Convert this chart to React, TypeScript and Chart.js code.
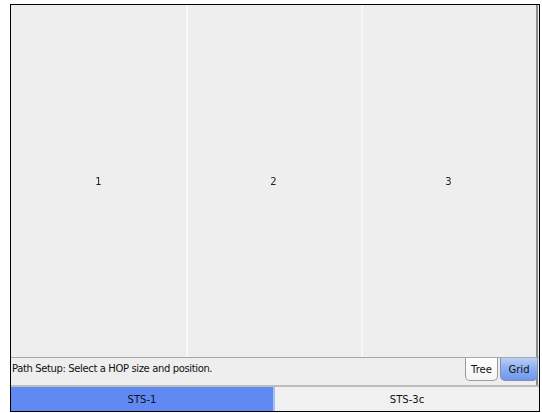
import React, { useEffect, useRef } from "react";
import { Chart, registerables } from "chart.js";

Chart.register(...registerables);

const categories = ["1", "2", "3"];
const panelValues = [1, 1, 1];
const statusText = "Path Setup: Select a HOP size and position.";
const viewButtons = ["Tree", "Grid"];
const tabs = ["STS-1", "STS-3c"];

const FONT = "'DejaVu Sans', sans-serif";

const panelPlugin = {
  id: "panelPlugin",
  afterDatasetsDraw(chart: any) {
    const ctx = chart.ctx;
    const xs = chart.scales.x;
    const area = chart.chartArea;
    const n = categories.length;
    const step = (area.right - area.left) / n;
    ctx.save();
    ctx.strokeStyle = "#f8f8f8";
    ctx.lineWidth = 2;
    for (let i = 0; i < n - 1; i++) {
      const x = Math.round(xs.getPixelForValue(i) + step / 2) + 1;
      ctx.beginPath();
      ctx.moveTo(x, area.top);
      ctx.lineTo(x, area.bottom);
      ctx.stroke();
    }
    ctx.fillStyle = "#222";
    ctx.font = "10px " + FONT;
    ctx.textAlign = "center";
    ctx.textBaseline = "middle";
    const ys = chart.scales.y;
    for (let i = 0; i < n; i++) {
      ctx.fillText(categories[i], xs.getPixelForValue(i), ys.getPixelForValue(panelValues[i] / 2) + 1);
    }
    ctx.restore();
  },
};

export default function App() {
  const ref = useRef<HTMLCanvasElement>(null);
  useEffect(() => {
    document.body.style.margin = "0";
    const chart = new Chart(ref.current!, {
      type: "bar",
      data: {
        labels: categories,
        datasets: [
          {
            data: panelValues,
            backgroundColor: "#eeeeee",
            borderWidth: 0,
            barPercentage: 1,
            categoryPercentage: 1,
          },
        ],
      },
      options: {
        responsive: false,
        animation: false,
        maintainAspectRatio: false,
        layout: { padding: 0 },
        plugins: { legend: { display: false }, tooltip: { enabled: false } },
        scales: {
          x: { display: false },
          y: { display: false, min: 0, max: 1 },
        },
      },
      plugins: [panelPlugin],
    });
    return () => chart.destroy();
  }, []);

  return (
    <div style={{ position: "absolute", left: 0, top: 0, width: 542, height: 413, background: "#fff", fontFamily: FONT }}>
      <div
        style={{
          position: "absolute",
          left: 10,
          top: 4,
          width: 530,
          height: 408,
          border: "1px solid #000",
          boxSizing: "border-box",
          background: "#eeeeee",
          overflow: "hidden",
        }}
      >
        <canvas ref={ref} width={525} height={352} style={{ position: "absolute", left: 0, top: 0, width: 525, height: 352 }} />
        <div style={{ position: "absolute", left: 525, top: 0, width: 2, height: 380, background: "#8c8c8c" }} />
        <div style={{ position: "absolute", left: 0, top: 352, width: 528, height: 1, background: "#a8a8a8" }} />
        <div
          style={{
            position: "absolute",
            left: 1,
            top: 358,
            fontSize: 10,
            letterSpacing: "-0.37px",
            color: "#111",
            lineHeight: "12px",
            whiteSpace: "nowrap",
          }}
        >
          {statusText}
        </div>
        <div
          style={{
            position: "absolute",
            left: 454,
            top: 353,
            width: 33,
            height: 23,
            background: "linear-gradient(#ffffff, #f4f4f4)",
            border: "1px solid #9a9a9a",
            borderTop: "none",
            borderRadius: "0 0 5px 5px",
            boxSizing: "border-box",
            fontSize: 10,
            textAlign: "center",
            lineHeight: "24px",
            color: "#111",
          }}
        >
          {viewButtons[0]}
        </div>
        <div
          style={{
            position: "absolute",
            left: 489,
            top: 353,
            width: 38,
            height: 23,
            background: "linear-gradient(#b9cff7, #8fb0f1 45%, #6f97ec)",
            border: "1px solid #7c8fb3",
            borderTop: "none",
            borderRadius: "0 0 5px 5px",
            boxSizing: "border-box",
            fontSize: 10,
            textAlign: "center",
            lineHeight: "24px",
            color: "#111",
          }}
        >
          {viewButtons[1]}
        </div>
        <div style={{ position: "absolute", left: 0, top: 380, width: 528, height: 2, background: "#bcbcbc" }} />
        <div
          style={{
            position: "absolute",
            left: 0,
            top: 382,
            width: 262,
            height: 24,
            background: "#6089f4",
            borderRight: "2px solid #a9c0fb",
            fontSize: 10,
            textAlign: "center",
            lineHeight: "25px",
            color: "#111",
          }}
        >
          {tabs[0]}
        </div>
        <div
          style={{
            position: "absolute",
            left: 264,
            top: 382,
            width: 264,
            height: 24,
            background: "#f0f0f0",
            fontSize: 10,
            textAlign: "center",
            lineHeight: "25px",
            color: "#111",
          }}
        >
          {tabs[1]}
        </div>
      </div>
    </div>
  );
}
